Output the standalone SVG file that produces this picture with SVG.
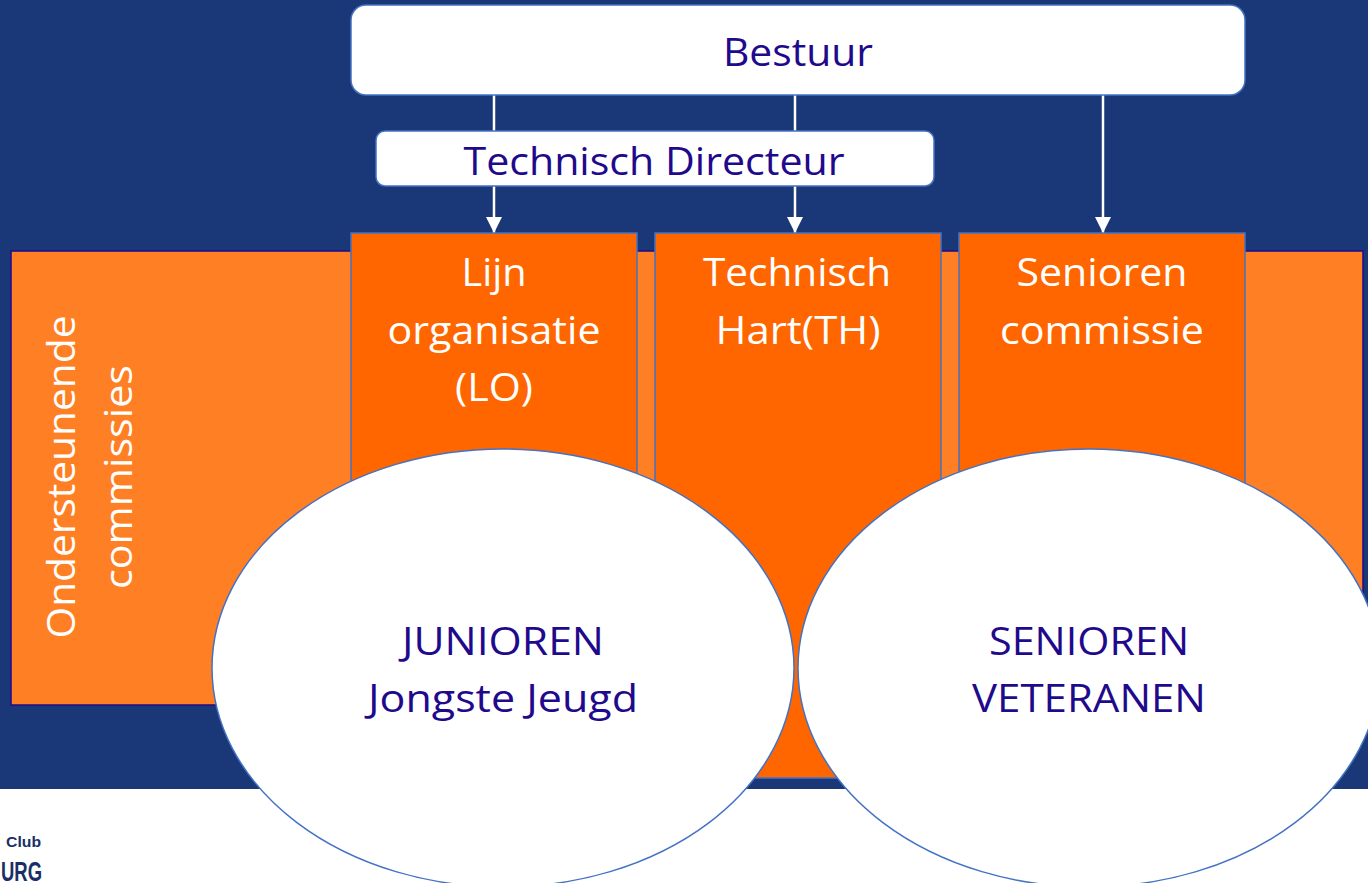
<svg xmlns="http://www.w3.org/2000/svg" width="1368" height="883" viewBox="0 0 1368 883">
<defs>
<marker id="ah" markerUnits="userSpaceOnUse" markerWidth="16" markerHeight="16" refX="16" refY="8" orient="auto"><path d="M0,0L16,8L0,16Z" fill="#fff"/></marker>
</defs>
<style>
text{font-family:"Open Sans","Noto Sans","Liberation Sans",sans-serif;text-anchor:middle;font-size:38px}
.d{fill:#1f0a8c}.w{fill:#fff}
.col{fill:#ff6600;stroke:#4472c4;stroke-width:1.5}
.box{fill:#fff;stroke:#4472c4;stroke-width:1.5}
.line{stroke:#fff;stroke-width:2.5;fill:none}
.logo{font-family:"Liberation Sans",Arial,sans-serif;font-weight:700;fill:#1a2f66;text-anchor:start}
</style>
<rect id="background" x="0" y="0" width="1368" height="789" fill="#1a3877"/>
<g id="logo">
<text class="logo" x="6" y="847" style="font-size:15.5px" textLength="35" lengthAdjust="spacingAndGlyphs">Club</text>
<text class="logo" x="1" y="881" style="font-size:27px" textLength="41" lengthAdjust="spacingAndGlyphs">URG</text>
</g>
<g id="ondersteunende"><rect x="11" y="251" width="1352" height="454" fill="#ff7f24" stroke="#1f0a8c" stroke-width="1.5"/>
<text class="w" transform="translate(75,477) rotate(-90)" textLength="323" lengthAdjust="spacingAndGlyphs">Ondersteunende</text>
<text class="w" transform="translate(132,477) rotate(-90)" textLength="224" lengthAdjust="spacingAndGlyphs">commissies</text></g>
<g id="connectors">
<path class="line" d="M494,94V131"/>
<path class="line" d="M795,94V131"/>
<path class="line" marker-end="url(#ah)" d="M494,186V233"/>
<path class="line" marker-end="url(#ah)" d="M795,186V233"/>
<path class="line" marker-end="url(#ah)" d="M1103,94V233"/>
</g>
<g id="bestuur"><rect class="box" x="351" y="5" width="894" height="90" rx="15"/>
<text class="d" x="798" y="66" textLength="150" lengthAdjust="spacingAndGlyphs">Bestuur</text></g>
<g id="technisch-directeur"><rect class="box" x="376" y="131" width="558" height="55" rx="9"/>
<text class="d" x="654" y="175" textLength="381" lengthAdjust="spacingAndGlyphs">Technisch Directeur</text></g>
<g id="lijn"><rect class="col" x="351" y="233" width="286" height="300"/>
<text class="w" x="494" y="286" textLength="65" lengthAdjust="spacingAndGlyphs">Lijn</text>
<text class="w" x="494" y="344" textLength="213" lengthAdjust="spacingAndGlyphs">organisatie</text>
<text class="w" x="494" y="401" textLength="78" lengthAdjust="spacingAndGlyphs">(LO)</text></g>
<g id="technisch-hart"><rect class="col" x="655" y="233" width="286" height="545"/>
<text class="w" x="797" y="286" textLength="188" lengthAdjust="spacingAndGlyphs">Technisch</text>
<text class="w" x="798" y="344" textLength="165" lengthAdjust="spacingAndGlyphs">Hart(TH)</text></g>
<g id="senioren-commissie"><rect class="col" x="959" y="233" width="286" height="300"/>
<text class="w" x="1102" y="286" textLength="171" lengthAdjust="spacingAndGlyphs">Senioren</text>
<text class="w" x="1102" y="344" textLength="204" lengthAdjust="spacingAndGlyphs">commissie</text></g>
<g id="junioren"><ellipse class="box" cx="503" cy="668" rx="291" ry="219"/>
<text class="d" x="503" y="655" textLength="202" lengthAdjust="spacingAndGlyphs">JUNIOREN</text>
<text class="d" x="503" y="712" textLength="270" lengthAdjust="spacingAndGlyphs">Jongste Jeugd</text></g>
<g id="senioren"><ellipse class="box" cx="1089" cy="668" rx="291" ry="219"/>
<text class="d" x="1089" y="655" textLength="200" lengthAdjust="spacingAndGlyphs">SENIOREN</text>
<text class="d" x="1089" y="712" textLength="234" lengthAdjust="spacingAndGlyphs">VETERANEN</text></g>
</svg>
